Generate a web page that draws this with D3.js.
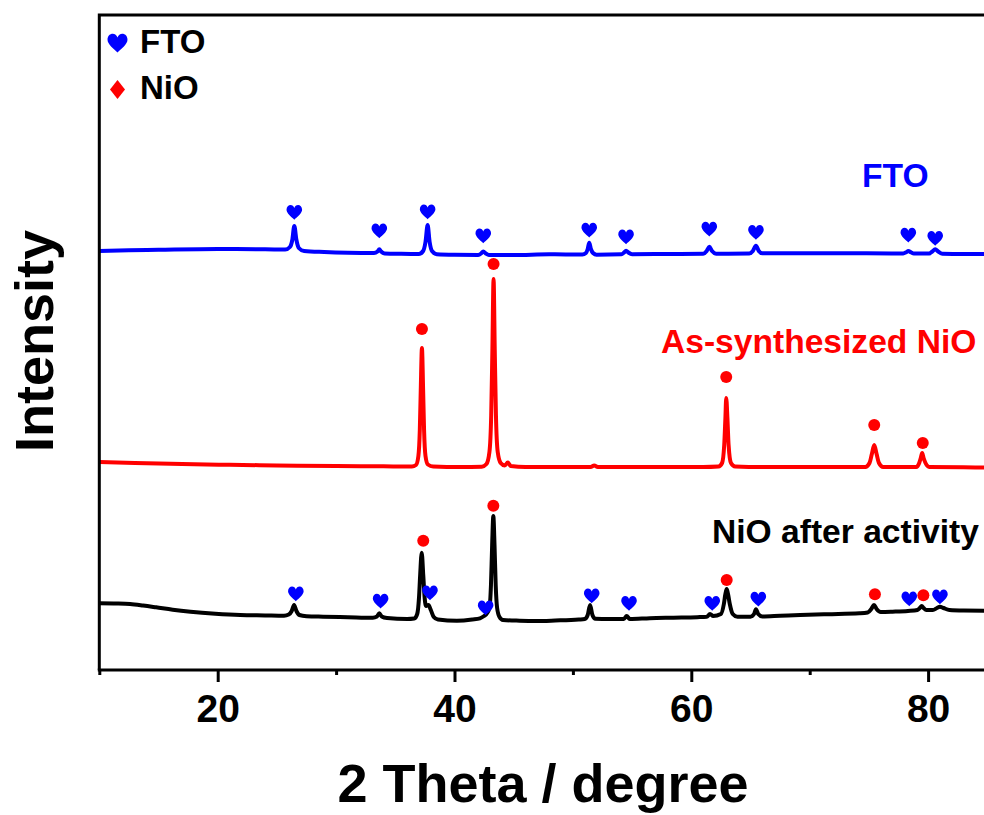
<!DOCTYPE html>
<html>
<head>
<meta charset="utf-8">
<script src="https://cdn.jsdelivr.net/npm/d3@7/dist/d3.min.js"></script>
<style>
  html, body { margin: 0; padding: 0; background: #fff; }
  svg { display: block; font-family: "Liberation Sans", Arial, sans-serif; }
</style>
</head>
<body>
<svg id="chart" width="984" height="815"></svg>
<script>
// XRD patterns, [2θ (degree), intensity (a.u., stacked offset included)]
const afterActivity = [
  [10, 66.7], [11.5, 66.5], [12.6, 66], [13.7, 64.5], [14.8, 62.7], [16.2, 60.3], [17.7, 58.3],
  [19.8, 56.3], [21.9, 55], [24, 54.6], [25.6, 54.3], [26.0, 55.5], [26.25, 59], [26.45, 65],
  [26.65, 59], [26.9, 55], [27.5, 53.8], [28.9, 53.3], [31, 52.8], [33.1, 52.3], [33.45, 53.5],
  [33.65, 56.7], [33.85, 53.5], [34.3, 52], [36, 51], [36.6, 51.5], [36.85, 56], [37.0, 72],
  [37.1, 95], [37.23, 117.3], [37.36, 95], [37.48, 72], [37.6, 64], [37.8, 65], [38.0, 60],
  [38.25, 53], [38.6, 50.5], [40.2, 49.3], [41.5, 50.5], [42.15, 51.7], [42.5, 54], [42.7, 56],
  [42.95, 62], [43.08, 85], [43.18, 125], [43.28, 154], [43.38, 125], [43.48, 85], [43.6, 62],
  [43.8, 53], [44.1, 50], [45.5, 49.3], [46.9, 49], [48.5, 49.5], [50.5, 50.5], [51.0, 51],
  [51.25, 55], [51.45, 65], [51.65, 55], [51.9, 51.2], [53, 51], [54.3, 51], [54.54, 54],
  [54.8, 51], [56.5, 51.8], [58.5, 52.3], [60.5, 52.8], [61.3, 53.2], [61.58, 56], [61.85, 54],
  [62.5, 56], [62.75, 66], [62.88, 76], [62.99, 81], [63.1, 76], [63.25, 66], [63.5, 56],
  [63.9, 53.2], [65.0, 53.3], [65.3, 56], [65.46, 60.7], [65.65, 56], [66.0, 53.5], [67.5, 54.2],
  [69.2, 55], [71.5, 55.8], [74.2, 56.7], [74.9, 57.5], [75.2, 61], [75.43, 65], [75.65, 61],
  [76.0, 58], [77, 58.3], [78.3, 59], [79.1, 60], [79.3, 62], [79.46, 64], [79.62, 62],
  [79.85, 60], [80.4, 60], [80.75, 62], [81.0, 63.3], [81.3, 62], [81.8, 60], [83, 59.5], [85, 59.3]
];

const asSynthesized = [
  [10, 208], [13, 207], [17, 206], [21, 205.2], [25, 204.6], [30, 204], [34, 203.7], [36.4, 203.5],
  [36.75, 205], [36.95, 214], [37.07, 240], [37.15, 280], [37.25, 322], [37.35, 280], [37.43, 240],
  [37.55, 214], [37.75, 205.5], [38.2, 203.5], [40.5, 203], [42.3, 203.3], [42.7, 206], [42.95, 218],
  [43.1, 255], [43.2, 320], [43.3, 391], [43.4, 320], [43.5, 255], [43.65, 218], [43.9, 207],
  [44.25, 204.5], [44.5, 207.5], [44.75, 204], [46, 203], [49, 203], [51.5, 203], [51.8, 204.5],
  [52.1, 203], [55, 203], [58, 203], [61, 203], [62.3, 203.5], [62.6, 207], [62.78, 225],
  [62.88, 252], [62.95, 272], [63.05, 252], [63.15, 225], [63.35, 207], [63.7, 203.5], [66, 203],
  [70, 203], [74.7, 203], [75.05, 207], [75.25, 216], [75.45, 225], [75.65, 216], [75.85, 207],
  [76.2, 203], [79.0, 203], [79.25, 207], [79.38, 212], [79.5, 217], [79.62, 212], [79.78, 207],
  [80.1, 203], [83, 202.7], [85, 202.5]
];

const fto = [
  [10, 419], [12.5, 419.7], [15, 420.2], [20, 421], [24, 420.8], [25.7, 420.4], [26.1, 423],
  [26.3, 430], [26.47, 444], [26.65, 430], [26.85, 422], [27.3, 419], [29, 418], [31, 417.3],
  [33.2, 417], [33.5, 418.5], [33.65, 420.7], [33.8, 418.5], [34.1, 416.6], [35.5, 416.2],
  [37.0, 416], [37.35, 419], [37.55, 428], [37.73, 445], [37.9, 428], [38.1, 419], [38.5, 415.8],
  [40, 415.2], [42.0, 415], [42.25, 416.5], [42.43, 418.5], [42.65, 416.5], [42.9, 415], [45, 415],
  [48, 415.7], [50.8, 415.5], [51.1, 417], [51.25, 421], [51.38, 427.3], [51.52, 421], [51.7, 417],
  [52.0, 415.3], [54.1, 415.7], [54.32, 417.5], [54.49, 419.3], [54.68, 417.5], [55.0, 415.8],
  [58, 416], [61.0, 416.2], [61.3, 419], [61.52, 423.3], [61.75, 419], [62.1, 416.3], [64.9, 416.5],
  [65.2, 419], [65.46, 424.3], [65.7, 419], [66.0, 416.7], [69, 416.7], [72, 416.8], [74.8, 416.7],
  [77.9, 416.5], [78.15, 417.7], [78.33, 419], [78.55, 417.7], [78.8, 416.5], [80.1, 416.5],
  [80.35, 418.5], [80.6, 420.7], [80.85, 418.5], [81.2, 416.3], [83, 416], [85, 416]
];

// Reflection markers, [2θ, marker height]
const ftoMarksOnFTO = [
  [26.47, 457.7], [33.65, 439.3], [37.73, 458.3], [42.43, 434.3], [51.38, 440],
  [54.49, 433.3], [61.52, 441], [65.46, 437.7], [78.33, 435], [80.6, 431.7]
];
const nioMarksOnAsSynth = [[37.25, 341], [43.3, 406], [62.95, 293], [75.45, 245], [79.55, 227]];
const ftoMarksOnAfter = [
  [26.6, 76.3], [33.76, 69], [37.93, 77.3], [42.63, 62.3], [51.59, 74.3],
  [54.74, 66.7], [61.77, 66.7], [65.66, 71], [78.41, 71.3], [81.0, 73.3]
];
const nioMarksOnAfter = [[37.36, 129.3], [43.28, 164.3], [62.99, 90], [75.51, 75.7], [79.6, 74.7]];

const majorTicks = [20, 40, 60, 80];
const minorTicks = [10, 30, 50, 70];
const seriesLabels = ["FTO", "As-synthesized NiO", "NiO after activity"];
const legendLabels = ["FTO", "NiO"];

const BLUE = "#0000ff", RED = "#ff0000", BLACK = "#000000";

const svg = d3.select("#chart");
const plotLeft = 99.3, plotTop = 15, plotBottom = 670, plotRight = 987.3;

const x = d3.scaleLinear().domain([10, 85]).range([plotLeft, plotRight]);
const y = d3.scaleLinear().domain([0, 655]).range([plotBottom, plotTop]);

svg.append("defs").append("clipPath").attr("id", "plotClip")
  .append("rect").attr("x", plotLeft).attr("y", plotTop)
  .attr("width", plotRight - plotLeft).attr("height", plotBottom - plotTop);

const line = d3.line().x(d => x(d[0])).y(d => y(d[1])).curve(d3.curveMonotoneX);

const plot = svg.append("g").attr("clip-path", "url(#plotClip)");
[[fto, BLUE], [asSynthesized, RED], [afterActivity, BLACK]].forEach(([data, color]) => {
  plot.append("path").datum(data)
    .attr("d", line)
    .attr("fill", "none")
    .attr("stroke", color)
    .attr("stroke-width", 4)
    .attr("stroke-linejoin", "round");
});

// heart glyph for FTO reflections
const heartPath = "M0,7.5 C-3,4.5 -7.8,1 -7.8,-2.5 C-7.8,-5.6 -5.7,-7.2 -3.8,-7.2 C-2,-7.2 -0.6,-6 0,-4.2 " +
                  "C0.6,-6 2,-7.2 3.8,-7.2 C5.7,-7.2 7.8,-5.6 7.8,-2.5 C7.8,1 3,4.5 0,7.5 Z";

function hearts(data) {
  plot.append("g").selectAll("path").data(data).join("path")
    .attr("d", heartPath)
    .attr("transform", d => `translate(${x(d[0])},${y(d[1])})`)
    .attr("fill", BLUE);
}
function dots(data) {
  plot.append("g").selectAll("circle").data(data).join("circle")
    .attr("cx", d => x(d[0])).attr("cy", d => y(d[1])).attr("r", 6)
    .attr("fill", RED);
}
hearts(ftoMarksOnFTO);
dots(nioMarksOnAsSynth);
hearts(ftoMarksOnAfter);
dots(nioMarksOnAfter);

// frame
const frame = svg.append("g").attr("stroke", BLACK).attr("stroke-width", 3).attr("fill", "none");
frame.append("path").attr("d", `M${plotLeft},${plotTop} H${plotRight + 5} M${plotLeft},${plotTop - 1.5} V${plotBottom}`);

// bottom axis
const xAxis = d3.axisBottom(x).tickValues(majorTicks).tickSize(12).tickPadding(12).tickFormat(d3.format("d"));
const gx = svg.append("g").attr("transform", `translate(0,${plotBottom})`).call(xAxis);
gx.select(".domain").attr("stroke-width", 3).attr("d", `M${plotLeft - 1.5},0H${plotRight + 5}`);
gx.selectAll(".tick line").attr("stroke-width", 3);
gx.selectAll(".tick text")
  .attr("font-size", 39).attr("font-weight", "bold").attr("fill", BLACK)
  .attr("font-family", "Liberation Sans, Arial, sans-serif");
const gxMinor = svg.append("g").attr("transform", `translate(0,${plotBottom})`)
  .call(d3.axisBottom(x).tickValues(minorTicks).tickSize(5).tickFormat(""));
gxMinor.select(".domain").remove();
gxMinor.selectAll(".tick line").attr("stroke-width", 3);

// axis titles
svg.append("text")
  .attr("x", 543).attr("y", 802).attr("text-anchor", "middle")
  .attr("font-size", 54).attr("font-weight", "bold").text("2 Theta / degree");
svg.append("text")
  .attr("transform", "translate(53,341) rotate(-90)").attr("text-anchor", "middle")
  .attr("font-size", 54).attr("font-weight", "bold").text("Intensity");

// pattern labels
const labelSpecs = [
  { text: seriesLabels[0], color: BLUE, x: 862, y: 187 },
  { text: seriesLabels[1], color: RED, x: 661, y: 353 },
  { text: seriesLabels[2], color: BLACK, x: 712, y: 543 }
];
svg.append("g").selectAll("text").data(labelSpecs).join("text")
  .attr("x", d => d.x).attr("y", d => d.y)
  .attr("fill", d => d.color).attr("font-size", 33.6).attr("font-weight", "bold")
  .text(d => d.text);

// legend
const legend = svg.append("g");
legend.append("path").attr("d", heartPath)
  .attr("transform", "translate(117.5,43) scale(1.28)").attr("fill", BLUE);
legend.append("path").attr("d", "M0,-9.5 L7.5,0 L0,9.5 L-7.5,0 Z")
  .attr("transform", "translate(117.5,89.5)").attr("fill", RED);
legend.selectAll("text").data(legendLabels).join("text")
  .attr("x", 140).attr("y", (d, i) => 53 + i * 46)
  .attr("font-size", 33).attr("font-weight", "bold").attr("fill", BLACK)
  .text(d => d);
</script>
</body>
</html>
